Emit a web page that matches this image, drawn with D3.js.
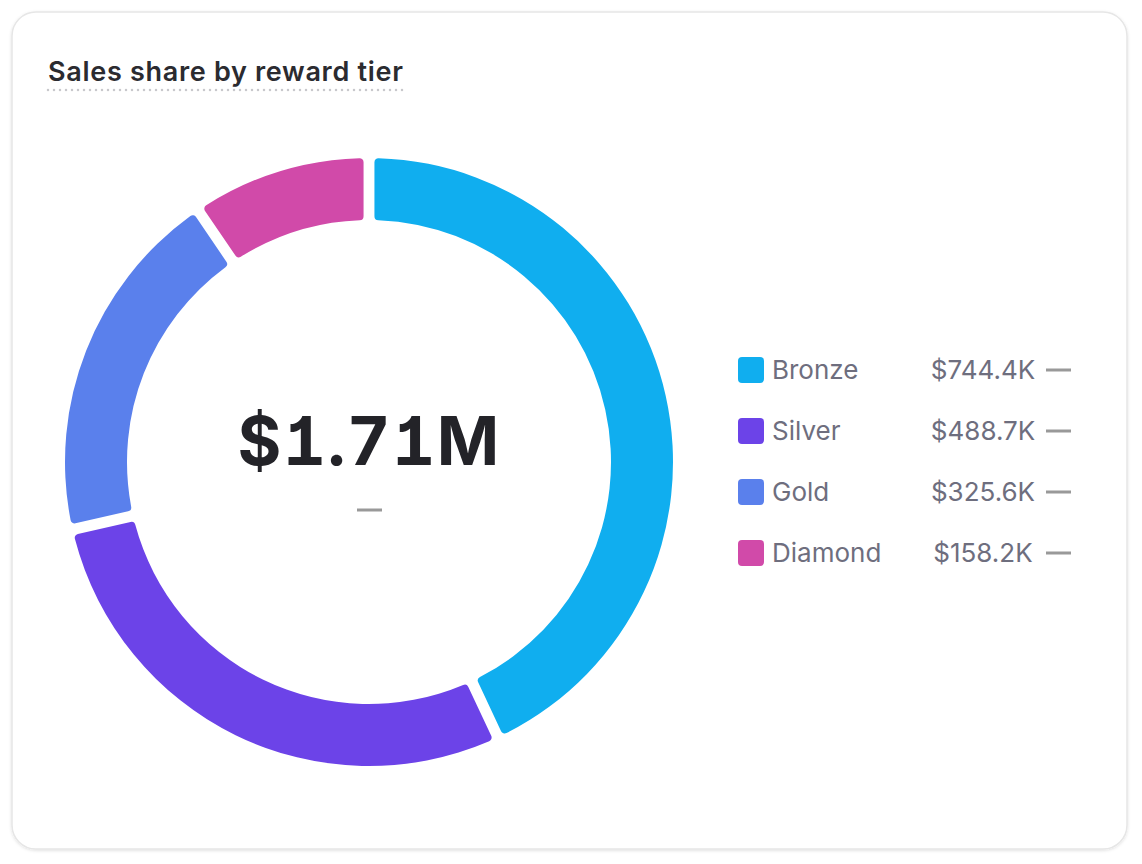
<!DOCTYPE html>
<html>
<head>
<meta charset="utf-8">
<script src="https://cdn.jsdelivr.net/npm/d3@7"></script>
<style>
  html, body { margin: 0; padding: 0; background: #fff; }
  body { width: 1142px; height: 864px; font-family: Inter, "Noto Sans", sans-serif; }
</style>
</head>
<body>
<div id="chart"></div>
<script>
// data
var tiers  = ["Bronze", "Silver", "Gold", "Diamond"];
var sales  = [744.4, 488.7, 325.6, 158.2];   // $K
var valueLabels = ["$744.4K", "$488.7K", "$325.6K", "$158.2K"];
var colors = ["#10aeef", "#6c43e8", "#5a80ec", "#d14aa9"];
var totalLabel = "$1.71M";
var title = "Sales share by reward tier";

var W = 1142, H = 864;

var svg = d3.select("#chart").append("svg")
    .attr("width", W)
    .attr("height", H);

// card
var defs = svg.append("defs");
var f = defs.append("filter").attr("id", "shadow").attr("x", "-5%").attr("y", "-5%").attr("width", "110%").attr("height", "110%");
f.append("feDropShadow").attr("dx", 0).attr("dy", 1).attr("stdDeviation", 1.5).attr("flood-color", "#000").attr("flood-opacity", 0.12);

svg.append("rect")
    .attr("x", 12).attr("y", 12)
    .attr("width", 1115).attr("height", 837)
    .attr("rx", 24)
    .attr("fill", "#fff")
    .attr("stroke", "#e6e6e6")
    .attr("stroke-width", 1.5)
    .attr("filter", "url(#shadow)");

// title
var titleText = svg.append("text")
    .attr("x", 48).attr("y", 81)
    .attr("font-size", 27)
    .attr("font-weight", 600)
    .attr("letter-spacing", 0.7)
    .attr("fill", "#2b2b30")
    .text(title);

var tw = titleText.node().getComputedTextLength();
svg.append("line")
    .attr("x1", 48).attr("x2", 48 + tw)
    .attr("y1", 90).attr("y2", 90)
    .attr("stroke", "#c8c8cc")
    .attr("stroke-width", 2.5)
    .attr("stroke-dasharray", "0 6")
    .attr("stroke-linecap", "round");

// donut
var cx = 369, cy = 462;
var outerR = 304, innerR = 242;

var pie = d3.pie().sort(null).value(function(d) { return d; }).padAngle(0.028);
var arc = d3.arc().innerRadius(innerR).outerRadius(outerR).cornerRadius(4);

var g = svg.append("g").attr("transform", "translate(" + cx + "," + cy + ")");

g.selectAll("path.slice")
    .data(pie(sales))
    .enter().append("path")
    .attr("class", "slice")
    .attr("d", arc)
    .attr("fill", function(d, i) { return colors[i]; });

// centre label
g.append("text")
    .attr("text-anchor", "middle")
    .attr("y", 3)
    .attr("font-size", 67)
    .attr("font-weight", 700)
    .attr("letter-spacing", 1.5)
    .style("font-feature-settings", "'cv01', 'tnum'")
    .attr("fill", "#232328")
    .text(totalLabel);

g.append("line")
    .attr("x1", -12).attr("x2", 13)
    .attr("y1", 48).attr("y2", 48)
    .attr("stroke", "#999")
    .attr("stroke-width", 3);

// legend
var y = d3.scalePoint().domain(tiers).range([370, 553]);

var rows = svg.selectAll("g.legend")
    .data(tiers)
    .enter().append("g")
    .attr("class", "legend")
    .attr("transform", function(d) { return "translate(0," + y(d) + ")"; });

rows.append("rect")
    .attr("x", 738).attr("y", -13)
    .attr("width", 26).attr("height", 26)
    .attr("rx", 4)
    .attr("fill", function(d, i) { return colors[i]; });

rows.append("text")
    .attr("x", 772).attr("y", 9)
    .attr("font-size", 26)
    .attr("fill", "#6e6e7e")
    .text(function(d) { return d; });

rows.append("text")
    .attr("x", 983).attr("y", 9)
    .attr("text-anchor", "middle")
    .attr("font-size", 26)
    .attr("fill", "#6e6e7e")
    .text(function(d, i) { return valueLabels[i]; });

rows.append("line")
    .attr("x1", 1046).attr("x2", 1071)
    .attr("y1", 0).attr("y2", 0)
    .attr("stroke", "#999")
    .attr("stroke-width", 3);
</script>
</body>
</html>
